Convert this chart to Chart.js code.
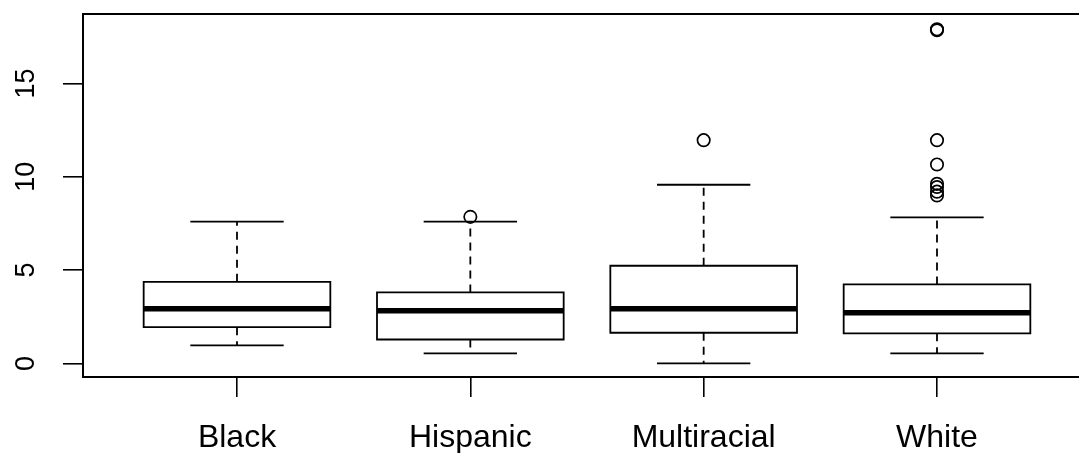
<!DOCTYPE html>
<html>
<head>
<meta charset="utf-8">
<script src="https://cdn.jsdelivr.net/npm/chart.js@4.4.1/dist/chart.umd.min.js"></script>
<style>
  html, body { margin: 0; padding: 0; background: #fff; overflow: hidden; }
  #box-chart { display: block; }
</style>
</head>
<body>
<canvas id="box-chart" width="1130" height="453"></canvas>
<script>
// values
const categories = ['Black', 'Hispanic', 'Multiracial', 'White'];
const lowerWhisker = [0.96, 0.54, 0, 0.54];
const q1 = [1.94, 1.28, 1.64, 1.61];
const median = [2.93, 2.82, 2.93, 2.71];
const q3 = [4.37, 3.8, 5.23, 4.23];
const upperWhisker = [7.6, 7.6, 9.57, 7.82];
const outliers = [
  [],
  [7.85],
  [11.96],
  [17.85, 17.9, 11.96, 10.66, 9.62, 9.45, 9.2, 9.0]
];
const yTicks = [0, 5, 10, 15];

const boxHalf = 0.4;
const capHalf = 0.2;

// build line paths from the arrays, null breaks the line between groups
let boxPts = [], medPts = [], whiskPts = [], capPts = [], outPts = [];
categories.forEach(function(name, i) {
  const c = i + 1;
  boxPts.push({x: c - boxHalf, y: q1[i]}, {x: c + boxHalf, y: q1[i]},
              {x: c + boxHalf, y: q3[i]}, {x: c - boxHalf, y: q3[i]},
              {x: c - boxHalf, y: q1[i]}, {x: c, y: null});
  medPts.push({x: c - boxHalf, y: median[i]}, {x: c + boxHalf, y: median[i]}, {x: c, y: null});
  whiskPts.push({x: c, y: q3[i]}, {x: c, y: upperWhisker[i]}, {x: c, y: null},
                {x: c, y: q1[i]}, {x: c, y: lowerWhisker[i]}, {x: c, y: null});
  capPts.push({x: c - capHalf, y: upperWhisker[i]}, {x: c + capHalf, y: upperWhisker[i]}, {x: c, y: null},
              {x: c - capHalf, y: lowerWhisker[i]}, {x: c + capHalf, y: lowerWhisker[i]}, {x: c, y: null});
  outliers[i].forEach(function(v) { outPts.push({x: c, y: v}); });
});

const framePlugin = {
  id: 'frame',
  afterDraw(chart) {
    const a = chart.chartArea, ctx = chart.ctx;
    ctx.save();
    ctx.strokeStyle = '#000';
    ctx.lineWidth = 2;
    ctx.strokeRect(a.left, a.top, a.right - a.left, a.bottom - a.top);
    ctx.restore();
  }
};

const lineStyle = {
  type: 'line',
  borderColor: '#000',
  pointRadius: 0,
  tension: 0,
  fill: false,
  spanGaps: false
};

new Chart(document.getElementById('box-chart'), {
  type: 'line',
  data: {
    datasets: [
      Object.assign({}, lineStyle, { data: outPts, showLine: false, pointRadius: 6.2, pointBorderWidth: 1.7,
        pointBorderColor: '#000', pointBackgroundColor: 'rgba(0,0,0,0)', clip: false }),
      Object.assign({}, lineStyle, { data: medPts, borderWidth: 5.5, borderCapStyle: 'butt' }),
      Object.assign({}, lineStyle, { data: boxPts, borderWidth: 1.8, borderCapStyle: 'square', borderJoinStyle: 'miter' }),
      Object.assign({}, lineStyle, { data: capPts, borderWidth: 1.8 }),
      Object.assign({}, lineStyle, { data: whiskPts, borderWidth: 1.8, borderDash: [8, 6] })
    ]
  },
  options: {
    responsive: false,
    animation: false,
    devicePixelRatio: 1,
    events: [],
    layout: { padding: { left: 0, right: 39, top: 14, bottom: 0 } },
    plugins: { legend: { display: false }, tooltip: { enabled: false } },
    scales: {
      x: {
        type: 'linear',
        min: 0.34,
        max: 4.66,
        afterBuildTicks: function(scale) { scale.ticks = categories.map(function(n, i) { return {value: i + 1}; }); },
        afterFit: function(scale) { scale.height = 76; scale.paddingLeft = 0; scale.paddingRight = 0; },
        border: { display: false },
        grid: { drawOnChartArea: false, tickLength: 20, color: '#000', lineWidth: 1.6 },
        ticks: {
          padding: 22,
          color: '#000',
          maxRotation: 0,
          autoSkip: false,
          font: { family: 'Liberation Sans, Arial, sans-serif', size: 32 },
          callback: function(v) { return categories[v - 1]; }
        }
      },
      y: {
        min: -0.73,
        max: 18.72,
        afterBuildTicks: function(scale) { scale.ticks = yTicks.map(function(v) { return {value: v}; }); },
        afterFit: function(scale) { scale.width = 83; scale.paddingTop = 0; scale.paddingBottom = 0; },
        border: { display: false },
        grid: { drawOnChartArea: false, tickLength: 20, color: '#000', lineWidth: 1.6 },
        ticks: {
          padding: 21,
          color: '#000',
          minRotation: 90,
          maxRotation: 90,
          crossAlign: 'center',
          font: { family: 'Liberation Sans, Arial, sans-serif', size: 27 }
        }
      }
    }
  },
  plugins: [framePlugin]
});
</script>
</body>
</html>
